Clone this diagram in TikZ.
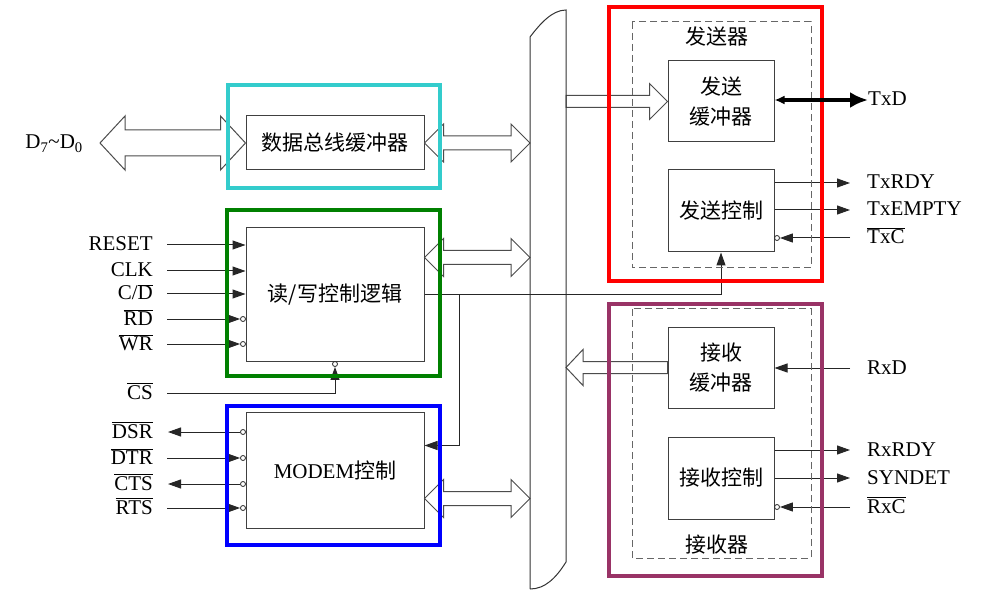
\documentclass[tikz,border=0pt]{standalone}
\usepackage{fontspec}
\setmainfont{Liberation Serif}
\newfontfamily\cjk{Noto Sans CJK SC}
\usepackage{tikz}
\usetikzlibrary{calc, arrows.meta}

\definecolor{dbcyan}{RGB}{51,204,204}
\definecolor{rwgreen}{RGB}{0,128,0}
\definecolor{mdblue}{RGB}{0,0,255}
\definecolor{txred}{RGB}{255,0,0}
\definecolor{rxpurple}{RGB}{153,51,102}

\newcommand{\ovl}[1]{$\overline{\mbox{#1}}$}

% hollow double arrow: left tip, right tip, head length, head half width, shaft half width
\newcommand{\dblarrow}[5]{%
  \draw[hollow] (#1) -- ++(#3,-#4) -- ++(0,#4-#5) -- ($(#2)+(-#3,-#5)$) -- ++(0,#5-#4) -- (#2)
    -- ++(-#3,#4) -- ++(0,#5-#4) -- ($(#1)+(#3,#5)$) -- ++(0,#4-#5) -- cycle;}

% hollow single arrow: tail, tip, signed head length, head half width, shaft half width
\newcommand{\sglarrow}[5]{%
  \draw[hollow] ($(#1)+(0,#5)$) -- ($(#2)-(#3,-#5)$) -- ($(#2)-(#3,-#4)$) -- (#2)
    -- ($(#2)-(#3,#4)$) -- ($(#2)-(#3,#5)$) -- ($(#1)-(0,#5)$) -- cycle;}

\tikzset{
  blk/.style={draw=black!75, line width=1pt, fill=white, inner sep=0pt,
    font=\fontsize{21}{30}\selectfont\cjk},
  sig/.style={draw=black!85, line width=1pt, -{Triangle[length=13pt,width=9pt]}},
  bubble/.style={draw=black!85, line width=0.8pt, fill=white, circle, inner sep=0pt, minimum size=5pt},
  hollow/.style={draw=black!70, line width=1pt, fill=white, line join=miter},
  grpframe/.style={line width=4pt},
  unitbox/.style={draw=black!60, line width=1pt, dash pattern=on 7pt off 4pt},
  lbl/.style={inner sep=0pt, anchor=east, text height=13pt, text depth=1pt},
  rlbl/.style={inner sep=0pt, anchor=west, text height=13pt, text depth=1pt},
}

\begin{document}
\begin{tikzpicture}[x=1pt, y=-1pt, font=\fontsize{21}{30}\selectfont]
        \fill[white] (0,0) rectangle (985,612);
        \useasboundingbox (0,0) rectangle (985,612);

        %% Blocks
        \node[blk, minimum width=178pt, minimum height=54pt] (databuf) at (335,143) {数据总线缓冲器};
        \node[blk, minimum width=178pt, minimum height=133pt] (rwlogic) at (335,294.5) {读/写控制逻辑};
        \node[blk, minimum width=178pt, minimum height=116pt] (modem) at (335,470) {{\rmfamily MODEM}控制};
        \node[blk, minimum width=106pt, minimum height=81pt, align=center] (txbuf) at (721,101.5) {发送\\缓冲器};
        \node[blk, minimum width=106pt, minimum height=82pt] (txctl) at (721,211) {发送控制};
        \node[blk, minimum width=106pt, minimum height=81pt, align=center] (rxbuf) at (721,367.5) {接收\\缓冲器};
        \node[blk, minimum width=106pt, minimum height=82pt] (rxctl) at (721,478) {接收控制};

        %% Bus
        \coordinate (busL) at (530,300);
        \coordinate (busR) at (566,300);

        %% Left labels
        \node[lbl] (lData) at (83,143) {D\textsubscript{7}\textasciitilde D\textsubscript{0}};
        \node[lbl] (lReset) at (153,245) {RESET};
        \node[lbl] (lClk) at (153,271) {CLK};
        \node[lbl] (lCD) at (153,294) {C/\ovl{D}};
        \node[lbl] (lRD) at (153,319) {\ovl{RD}};
        \node[lbl] (lWR) at (153,344) {\ovl{WR}};
        \node[lbl] (lCS) at (153,393) {\ovl{CS}};
        \node[lbl] (lDSR) at (153,432) {\ovl{DSR}};
        \node[lbl] (lDTR) at (153,458) {\ovl{DTR}};
        \node[lbl] (lCTS) at (153,484) {\ovl{CTS}};
        \node[lbl] (lRTS) at (153,508) {\ovl{RTS}};

        %% Right labels
        \node[rlbl] (lTxD) at (868,100) {TxD};
        \node[rlbl] (lTxRDY) at (867,183) {TxRDY};
        \node[rlbl] (lTxEmpty) at (867,210) {TxEMPTY};
        \node[rlbl] (lTxC) at (867,238) {\ovl{TxC}};
        \node[rlbl] (lRxD) at (867,368) {RxD};
        \node[rlbl] (lRxRDY) at (867,450) {RxRDY};
        \node[rlbl] (lSyn) at (867,478) {SYNDET};
        \node[rlbl] (lRxC) at (867,507) {\ovl{RxC}};

        %% Hollow bus arrows
        \coordinate (dtip) at ($(lData.east)+(17,0)$);
        \coordinate (rwio) at ($(rwlogic.north east)+(0,30)$);
        \coordinate (mdio) at ($(modem.south east)+(0,-30)$);
        \dblarrow{dtip}{databuf.west}{25}{27}{13}
        \dblarrow{databuf.east}{busL |- databuf.east}{19}{19}{7}
        \dblarrow{rwio}{busL |- rwio}{19}{19}{7}
        \dblarrow{mdio}{busL |- mdio}{19}{19}{7}
        \sglarrow{busR |- txbuf.west}{txbuf.west}{18}{18}{6}
        \sglarrow{rxbuf.west}{busR |- rxbuf.west}{-17}{18}{6}

        %% Bus outline
        \draw[black!80, line width=1pt] (530,589) -- (530,37) .. controls (540,24) and (552,10) .. (566,10)
            -- (566,562) .. controls (556,578) and (545,589) .. (530,589);

        %% Read/write inputs
        \foreach \l in {lReset, lClk, lCD}
            \draw[sig] ($(\l.east)+(14,0)$) -- (rwlogic.west |- \l);
        \foreach \l/\b in {lRD/bRD, lWR/bWR}{
            \node[bubble] (\b) at ($(rwlogic.west |- \l)+(-2.5,0)$) {};
            \draw[sig] ($(\l.east)+(14,0)$) -- (\b.west);
        }
        \node[bubble] (bCS) at ($(rwlogic.south)+(0,2.5)$) {};
        \draw[sig] ($(lCS.east)+(14,0)$) -| (bCS.south);

        %% Modem lines
        \foreach \l/\b in {lDTR/bDTR, lRTS/bRTS}{
            \node[bubble] (\b) at ($(modem.west |- \l)+(-2.5,0)$) {};
            \draw[sig] ($(\l.east)+(14,0)$) -- (\b.west);
        }
        \foreach \l/\b in {lDSR/bDSR, lCTS/bCTS}{
            \node[bubble] (\b) at ($(modem.west |- \l)+(-2.5,0)$) {};
            \draw[sig] (\b.west) -- ($(\l.east)+(15,0)$);
        }

        %% Control line
        \coordinate (ctl) at ($(rwlogic.east)+(35,0)$);
        \coordinate (mdin) at ($(modem.north east)+(0,34)$);
        \draw[sig] (rwlogic.east) -| (txctl.south);
        \draw[sig] (ctl) |- (mdin);

        %% Transmitter lines
        \draw[sig] (txctl.east |- lTxRDY) -- ($(lTxRDY.west)+(-17,0)$);
        \draw[sig] (txctl.east |- lTxEmpty) -- ($(lTxEmpty.west)+(-17,0)$);
        \node[bubble] (bTxC) at ($(txctl.east |- lTxC)+(2.5,0)$) {};
        \draw[sig] ($(lTxC.west)+(-17,0)$) -- (bTxC.east);

        %% Receiver lines
        \draw[sig] ($(lRxD.west)+(-17,0)$) -- (rxbuf.east |- lRxD);
        \draw[sig] (rxctl.east |- lRxRDY) -- ($(lRxRDY.west)+(-17,0)$);
        \draw[sig] (rxctl.east |- lSyn) -- ($(lSyn.west)+(-17,0)$);
        \node[bubble] (bRxC) at ($(rxctl.east |- lRxC)+(2.5,0)$) {};
        \draw[sig] ($(lRxC.west)+(-17,0)$) -- (bRxC.east);

        %% Units
        \draw[unitbox] (632,22) rectangle (811,268);
        \draw[unitbox] (632,309) rectangle (811,558);
        \node[font=\fontsize{21}{30}\selectfont\cjk] (txname) at (717,37) {发送器};
        \node[font=\fontsize{21}{30}\selectfont\cjk] (rxname) at (717,545) {接收器};

        %% Frames
        \draw[grpframe, dbcyan] (227.5,85.5) rectangle (439.5,188);
        \draw[grpframe, rwgreen] (227,210.5) rectangle (439.5,376);
        \draw[grpframe, mdblue] (227,405.5) rectangle (439.5,545);
        \draw[grpframe, txred] (609,7) rectangle (821.5,281.3);
        \draw[grpframe, rxpurple] (609,304) rectangle (821.5,576);

        %% TxD
        \draw[line width=3.5pt, {Latex[length=10pt,width=9pt]}-{Latex[length=18pt,width=16pt]}] (txbuf.east |- lTxD) -- (lTxD.west);

\end{tikzpicture}
\end{document}
